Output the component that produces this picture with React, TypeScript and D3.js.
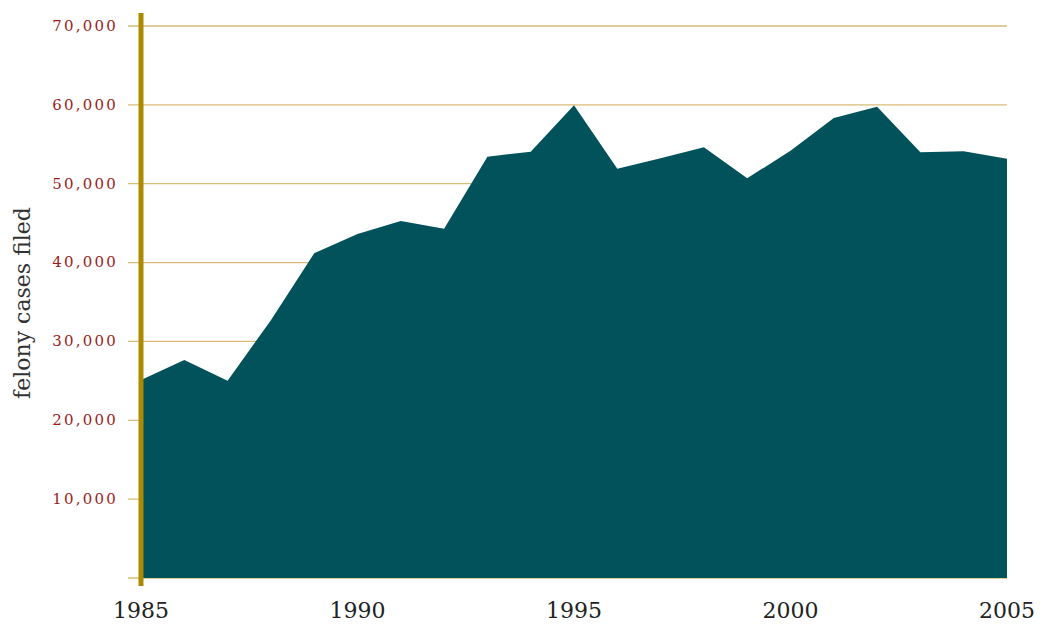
import { useEffect, useRef } from 'react';
import * as d3 from 'd3';

const years = [1985, 1986, 1987, 1988, 1989, 1990, 1991, 1992, 1993, 1994, 1995,
  1996, 1997, 1998, 1999, 2000, 2001, 2002, 2003, 2004, 2005];
const felonyCases = [25100, 27650, 25020, 32700, 41180, 43620, 45270, 44300, 53430, 54060, 59940,
  51900, 53220, 54610, 50680, 54190, 58330, 59770, 53980, 54110, 53180];
const yTicks = [10000, 20000, 30000, 40000, 50000, 60000, 70000];
const xTicks = [1985, 1990, 1995, 2000, 2005];

export default function App() {
  const svgRef = useRef<SVGSVGElement>(null);

  useEffect(() => {
    const width = 1042;
    const height = 626;
    const svg = d3.select(svgRef.current);
    svg.selectAll('*').remove();
    svg.attr('width', width).attr('height', height);

    const margin = { top: 26, right: 35, bottom: 48, left: 141 };
    const innerWidth = width - margin.left - margin.right;
    const innerHeight = height - margin.top - margin.bottom;

    const g = svg.append('g')
      .attr('transform', `translate(${margin.left},${margin.top})`);

    const x = d3.scaleLinear().domain([1985, 2005]).range([0, innerWidth]);
    const y = d3.scaleLinear().domain([0, 70000]).range([innerHeight, 0]);

    // Grid lines (extend a bit left of the axis as ticks)
    g.append('g')
      .selectAll('line')
      .data([0, ...yTicks])
      .enter().append('line')
      .attr('x1', -13)
      .attr('x2', innerWidth)
      .attr('y1', d => y(d))
      .attr('y2', d => y(d))
      .attr('stroke', '#d9bd78')
      .attr('stroke-width', 1.3);

    // Area
    const data = years.map((yr, i) => ({ year: yr, value: felonyCases[i] }));
    const area = d3.area<any>()
      .x(d => x(d.year))
      .y0(innerHeight)
      .y1(d => y(d.value));

    g.append('path')
      .datum(data)
      .attr('fill', '#02525c')
      .attr('d', area);

    // Y tick labels
    g.append('g')
      .selectAll('text')
      .data(yTicks)
      .enter().append('text')
      .attr('x', -23)
      .attr('y', d => y(d))
      .attr('dy', '0.32em')
      .attr('text-anchor', 'end')
      .attr('fill', '#9b1d1d')
      .style('font-family', '"DejaVu Serif", serif')
      .style('font-size', '15px')
      .style('letter-spacing', '2.2px')
      .text(d => d3.format(',')(d));

    // X tick labels
    g.append('g')
      .selectAll('text')
      .data(xTicks)
      .enter().append('text')
      .attr('x', d => x(d))
      .attr('y', innerHeight + 40)
      .attr('text-anchor', 'middle')
      .attr('fill', '#222')
      .style('font-family', '"DejaVu Serif", serif')
      .style('font-size', '22px')
      .text(d => d);

    // Vertical axis bar
    g.append('line')
      .attr('x1', 0)
      .attr('x2', 0)
      .attr('y1', -13)
      .attr('y2', innerHeight + 8)
      .attr('stroke', '#ab8a00')
      .attr('stroke-width', 5);

    // Y axis title
    svg.append('text')
      .attr('transform', `translate(30, 303) rotate(-90)`)
      .attr('text-anchor', 'middle')
      .attr('fill', '#333')
      .style('font-family', '"DejaVu Serif", serif')
      .style('font-size', '22px')
      .text('felony cases filed');
  }, []);

  return (
    <div style={{ position: 'absolute', left: 0, top: 0 }}>
      <svg ref={svgRef}></svg>
    </div>
  );
}
